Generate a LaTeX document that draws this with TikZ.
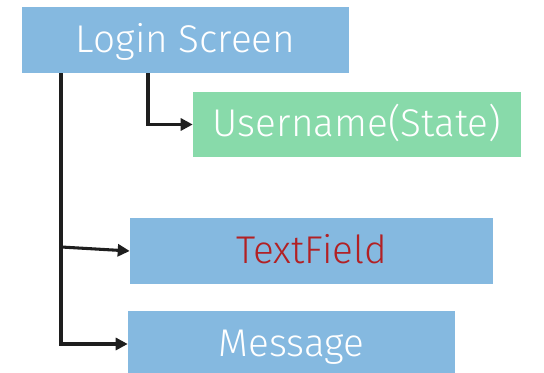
\documentclass[tikz,border=0pt]{standalone}
\usepackage{fontspec}
\setmainfont{Fira Sans}[UprightFont={* Light}]
\usetikzlibrary{arrows.meta}
\definecolor{boxblue}{RGB}{133,185,224}
\definecolor{boxgreen}{RGB}{136,218,170}
\definecolor{fieldred}{RGB}{178,32,36}
\begin{document}
\begin{tikzpicture}[x=0.75pt,y=-0.75pt,
  card/.style={fill=boxblue,draw=none,inner sep=0pt,minimum height=49.5pt,
    text height=18.5pt,text depth=0pt,
    text=white,font=\fontsize{29}{34}\selectfont},
  link/.style={line width=2.3pt,draw={rgb,255:red,30;green,30;blue,30},
    -{Triangle[length=9pt,width=9pt]}}]
\useasboundingbox (0,0) rectangle (544,373);
\clip (0,0) rectangle (544,373);
% component boxes
\node[card,minimum width=245.25pt] (login) at (185.5,40) {Login Screen};
\node[card,fill=boxgreen,minimum width=246pt,minimum height=48.75pt] (user) at (357,124.5) {Username(State)};
\node[card,minimum width=272.25pt,text=fieldred] (field) at (311.5,251) {TextField};
\node[card,minimum width=245.25pt] (msg) at (291.5,344) {Message};
% branch points
\coordinate (stem) at (148,0);
\coordinate (trunk) at (61,0);
\coordinate (tap) at (61,247);
% connectors
\draw[link] (login.south -| stem) |- (user.west);
\draw[link] (login.south -| trunk) |- (msg.west);
\draw[link] (tap) -- (field.west);
\end{tikzpicture}
\end{document}
